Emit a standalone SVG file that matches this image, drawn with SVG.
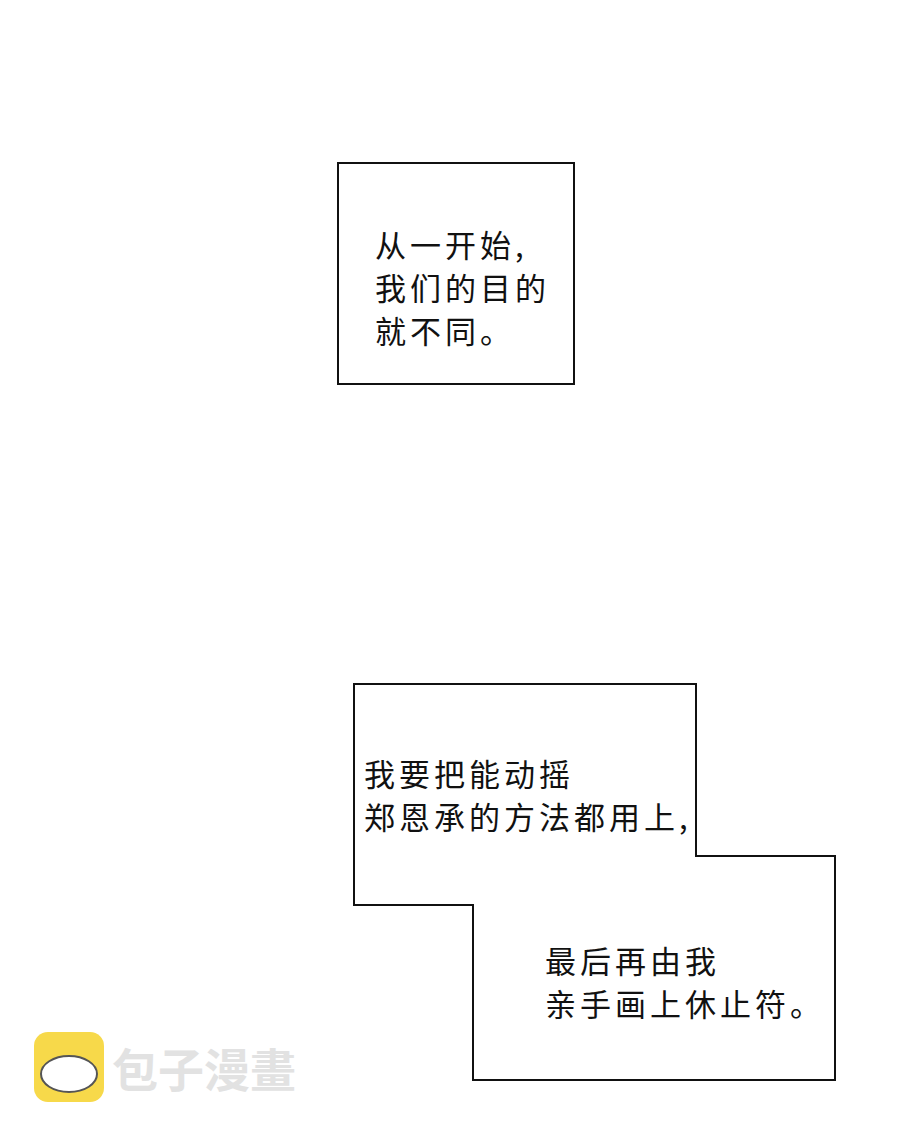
<svg xmlns="http://www.w3.org/2000/svg" width="900" height="1136" viewBox="0 0 900 1136">
<style>
.b{fill:#fff;stroke:#111;stroke-width:2}
.t{font-family:"Noto Sans CJK SC",sans-serif;font-size:31px;letter-spacing:4px;fill:#111}
</style>
<rect width="900" height="1136" fill="#fff"/>
<g id="box1">
<rect class="b" x="338" y="163" width="236" height="221"/>
<text class="t" x="375" y="257">从一开始,</text>
<text class="t" x="375" y="300">我们的目的</text>
<text class="t" x="375" y="343">就不同。</text>
</g>
<g id="box2">
<polygon class="b" points="354,684 696,684 696,856 835,856 835,1080 473,1080 473,905 354,905"/>
<text class="t" x="364" y="786">我要把能动摇</text>
<text class="t" x="364" y="829">郑恩承的方法都用上,</text>
<text class="t" x="545" y="973">最后再由我</text>
<text class="t" x="545" y="1016">亲手画上休止符。</text>
</g>
<g id="logo">
<rect x="34" y="1032" width="70" height="70" rx="14" fill="#f7d94a"/>
<ellipse cx="69" cy="1074" rx="28" ry="18" fill="#fff" stroke="#555" stroke-width="2"/>
<text x="112" y="1087" font-family="Noto Sans CJK SC,sans-serif" font-size="46" font-weight="bold" fill="#e2e2e2">包子漫畫</text>
</g>
</svg>
